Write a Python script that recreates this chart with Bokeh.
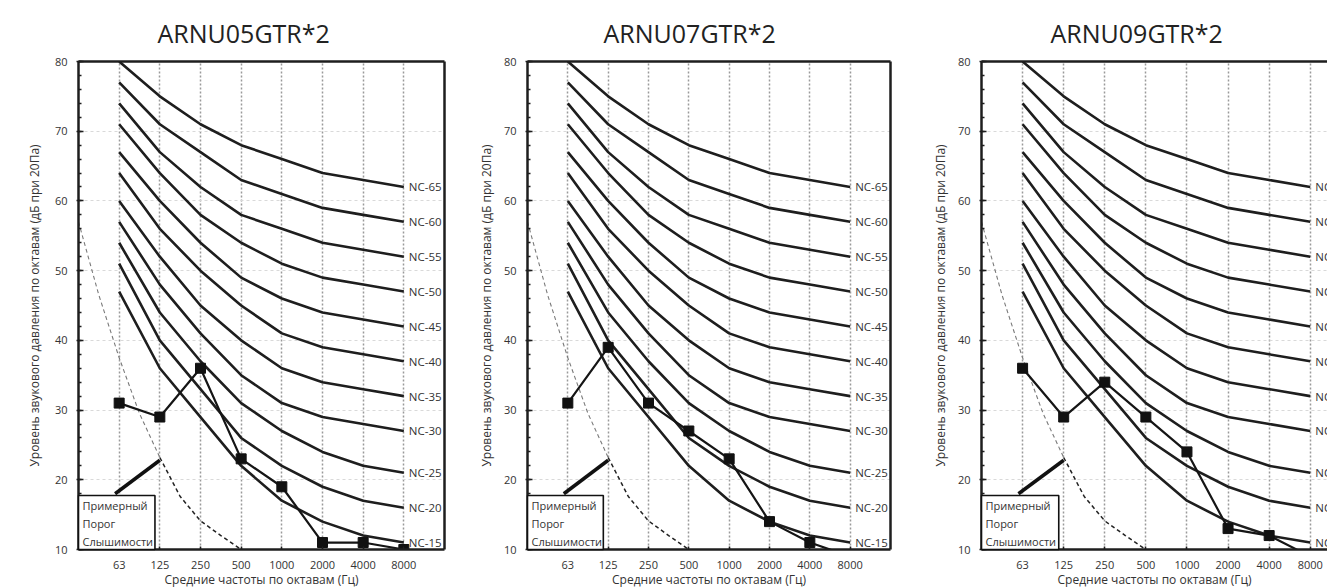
from bokeh.plotting import figure
from bokeh.layouts import row
from bokeh.models import (LinearAxis, FixedTicker, SingleIntervalTicker, Range1d,
                          Title, ColumnDataSource, Grid, GlobalInlineStyleSheet)
from bokeh.core.properties import value
from bokeh.embed import file_html
from bokeh.resources import INLINE

# ---------------- data ----------------
freq_labels = ["63", "125", "250", "500", "1000", "2000", "4000", "8000"]

nc_names = ["NC-15", "NC-20", "NC-25", "NC-30", "NC-35", "NC-40",
            "NC-45", "NC-50", "NC-55", "NC-60", "NC-65"]
nc_15 = [47, 36, 29, 22, 17, 14, 12, 11]
nc_20 = [51, 40, 33, 26, 22, 19, 17, 16]
nc_25 = [54, 44, 37, 31, 27, 24, 22, 21]
nc_30 = [57, 48, 41, 35, 31, 29, 28, 27]
nc_35 = [60, 52, 45, 40, 36, 34, 33, 32]
nc_40 = [64, 56, 50, 45, 41, 39, 38, 37]
nc_45 = [67, 60, 54, 49, 46, 44, 43, 42]
nc_50 = [71, 64, 58, 54, 51, 49, 48, 47]
nc_55 = [74, 67, 62, 58, 56, 54, 53, 52]
nc_60 = [77, 71, 67, 63, 61, 59, 58, 57]
nc_65 = [80, 75, 71, 68, 66, 64, 63, 62]
nc_curves = [nc_15, nc_20, nc_25, nc_30, nc_35, nc_40, nc_45, nc_50, nc_55, nc_60, nc_65]

# approximate hearing threshold (position in octave steps from 63 Hz, dB)
threshold_pos = [-1, -0.5, 0, 0.5, 1, 1.5, 2, 2.5, 3]
threshold_db = [57, 46.5, 37.5, 29.5, 23.2, 17.6, 14.1, 12, 10]

arrow_pos = [-0.1, 1.0]
arrow_db = [18, 22.8]

legend_lines = ["Примерный", "Порог", "Слышимости"]
legend_db = [16.25, 13.8, 11.2]

titles = ["ARNU05GTR*2", "ARNU07GTR*2", "ARNU09GTR*2"]
levels_05 = [31, 29, 36, 23, 19, 11, 11, 10]
levels_07 = [31, 39, 31, 27, 23, 14, 11, 9]
levels_09 = [36, 29, 34, 29, 24, 13, 12, 9]
levels = [levels_05, levels_07, levels_09]

y_label = "Уровень звукового давления по октавам (дБ при 20Па)"
x_label = "Средние частоты по октавам (Гц)"

FONT = "Open Sans"
DARK = "#1e1e1e"
TXT = "#333333"

# layout per panel: width, left border, right border, x end, title offset, y-label standoff
layouts = [
    dict(w=474, ml=78, mr=30, xend=8.0, toff=79, ys=9, rb=True),
    dict(w=446, ml=50, mr=30, xend=8.0, toff=76, ys=6, rb=True),
    dict(w=407, ml=61, mr=0, xend=7.42, toff=69, ys=6, rb=False),
]


def border_axis():
    return LinearAxis(ticker=FixedTicker(ticks=[]), axis_line_color=DARK, axis_line_width=2.5,
                      major_tick_line_color=None, minor_tick_line_color=None,
                      major_tick_in=0, major_tick_out=0, minor_tick_in=0, minor_tick_out=0,
                      major_label_standoff=0, major_label_text_font_size="0px")


def make_panel(title, lev, L):
    p = figure(width=L["w"], height=597, x_range=Range1d(-1, L["xend"]),
               y_range=Range1d(10, 80), output_backend="svg", toolbar_location=None,
               tools="", x_axis_type=None, y_axis_type=None,
               min_border_left=L["ml"], min_border_right=L["mr"],
               min_border_top=61, min_border_bottom=48)
    p.outline_line_color = None
    p.background_fill_color = "white"
    p.border_fill_color = "white"

    xt = FixedTicker(ticks=list(range(len(freq_labels))))
    p.add_layout(Grid(dimension=0, ticker=xt, grid_line_color="#9a9a9a",
                      grid_line_dash="2 2", grid_line_width=1.5))
    p.add_layout(Grid(dimension=1, ticker=SingleIntervalTicker(interval=10),
                      grid_line_color="#d9d9d9", grid_line_dash="3 3", grid_line_width=1))

    yaxis = LinearAxis(ticker=SingleIntervalTicker(interval=10, num_minor_ticks=5),
                       axis_label=y_label, axis_label_standoff=L["ys"],
                       axis_label_text_font=FONT, axis_label_text_font_size="12px",
                       axis_label_text_font_style="normal", axis_label_text_color=TXT,
                       major_label_text_font=FONT, major_label_text_font_size="11px",
                       major_label_text_color=TXT, major_label_standoff=9,
                       axis_line_color=DARK, axis_line_width=2.5,
                       major_tick_in=5, major_tick_out=2, major_tick_line_color=DARK,
                       major_tick_line_width=1.5,
                       minor_tick_in=3, minor_tick_out=0, minor_tick_line_color=DARK,
                       minor_tick_line_width=1.5)
    p.add_layout(yaxis, "left")

    xaxis = LinearAxis(ticker=xt,
                       major_label_overrides={i: s for i, s in enumerate(freq_labels)},
                       major_label_text_font=FONT, major_label_text_font_size="11px",
                       major_label_text_color=TXT, major_label_standoff=11,
                       axis_label=x_label, axis_label_standoff=-1,
                       axis_label_text_font=FONT, axis_label_text_font_size="12px",
                       axis_label_text_font_style="normal", axis_label_text_color=TXT,
                       axis_line_color=DARK, axis_line_width=2.5,
                       major_tick_in=3, major_tick_out=0, major_tick_line_color=DARK,
                       major_tick_line_width=1.5, minor_tick_line_color=None)
    p.add_layout(xaxis, "below")

    p.add_layout(border_axis(), "above")
    if L["rb"]:
        p.add_layout(border_axis(), "right")

    p.add_layout(Title(text=title, align="left", offset=L["toff"], standoff=19,
                       vertical_align="top",
                       text_font=FONT, text_font_size="25px", text_font_style="normal",
                       text_color="#222222"), "above")

    xs = list(range(len(freq_labels)))
    for c in nc_curves:
        p.line(xs, c, line_color=DARK, line_width=2.6)

    # hearing threshold
    p.line(threshold_pos[:5], threshold_db[:5], line_color="#7a7a7a", line_width=1.1,
           line_dash="4 3")
    p.line(threshold_pos[4:], threshold_db[4:], line_color="#222222", line_width=1.5,
           line_dash="4 3")

    # NC labels
    src = ColumnDataSource(dict(x=[xs[-1]] * len(nc_names), y=[c[-1] for c in nc_curves],
                                text=nc_names))
    p.text(x="x", y="y", text="text", source=src, x_offset=5, text_align="left",
           text_baseline="middle", text_font=value(FONT), text_font_size="11.5px",
           text_color=TXT)

    # measured levels
    p.line(xs, lev, line_color="#151515", line_width=2.2)
    p.scatter(xs, lev, marker="square", size=10, fill_color="#111111", line_color="#111111")

    # arrow + legend box
    p.line(arrow_pos, arrow_db, line_color="#111111", line_width=3.5)
    p.quad(left=[-1], right=[0.88], bottom=[10], top=[17.75], fill_color="white",
           line_color="#111111", line_width=1.6, level="overlay")
    p.text(x=[-1] * 3, y=legend_db, text=legend_lines, x_offset=4, text_align="left",
           text_baseline="middle", text_font=value(FONT), text_font_size="11px",
           text_color=TXT, level="overlay")
    return p


figs = [make_panel(t, lv, L) for t, lv, L in zip(titles, levels, layouts)]
layout = row(*figs, stylesheets=[GlobalInlineStyleSheet(css="html, body { overflow: hidden; }")])

open("out.html", "w").write(file_html(layout, INLINE))
